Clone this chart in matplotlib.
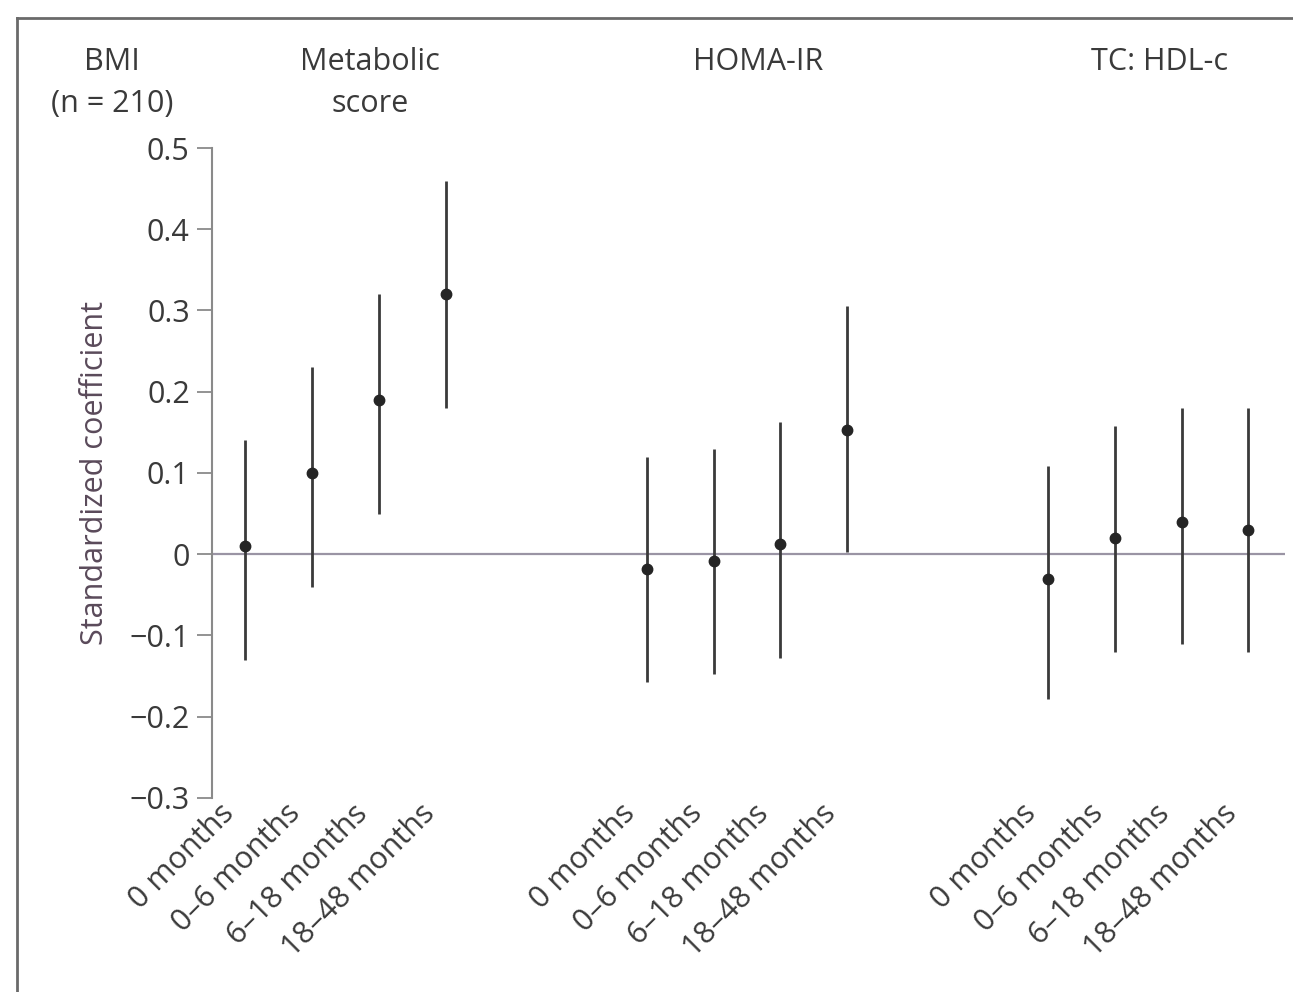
import matplotlib
matplotlib.use("Agg")
import matplotlib.pyplot as plt
import matplotlib.transforms as mtransforms
from matplotlib.lines import Line2D

plt.rcParams['font.family'] = ['Open Sans', 'DejaVu Sans']

group_names = [["Metabolic", "score"], ["HOMA-IR"], ["TC: HDL-c"]]
periods = ["0 months", "0\u20136 months", "6\u201318 months", "18\u201348 months"]

metabolic_est = [0.01, 0.10, 0.19, 0.32]
metabolic_lo = [-0.13, -0.04, 0.05, 0.18]
metabolic_hi = [0.14, 0.23, 0.32, 0.46]

homa_est = [-0.018, -0.008, 0.012, 0.153]
homa_lo = [-0.157, -0.147, -0.128, 0.003]
homa_hi = [0.12, 0.13, 0.163, 0.305]

tc_est = [-0.03, 0.02, 0.04, 0.03]
tc_lo = [-0.178, -0.12, -0.11, -0.12]
tc_hi = [0.108, 0.158, 0.18, 0.18]

yticks = [-0.3, -0.2, -0.1, 0, 0.1, 0.2, 0.3, 0.4, 0.5]
ytick_labels = ["\u22120.3", "\u22120.2", "\u22120.1", "0", "0.1", "0.2", "0.3", "0.4", "0.5"]

FS = 22
TXT = '#3a3a3a'

fig = plt.figure(figsize=(12.93, 9.92), dpi=100)
ax = fig.add_axes([0.164, 0.1956, 0.830, 0.6552])

series = [(metabolic_est, metabolic_lo, metabolic_hi),
          (homa_est, homa_lo, homa_hi),
          (tc_est, tc_lo, tc_hi)]
xpos_all = []
xlabels_all = []
for g, (est, lo, hi) in enumerate(series):
    xs = [g * 6 + i for i in range(len(est))]
    xpos_all += xs
    xlabels_all += periods
    for x, e, l, h in zip(xs, est, lo, hi):
        ax.plot([x, x], [l, h], color='#3a3a3a', lw=2.0, solid_capstyle='butt', zorder=3)
    ax.plot(xs, est, 'o', color='#252525', ms=7.5, zorder=4)

ax.axhline(0, color='#9a94a4', lw=1.6, zorder=2)

ax.set_xlim(-0.5, 15.55)
ax.set_ylim(-0.3, 0.5)
ax.set_yticks(yticks)
ax.set_yticklabels(ytick_labels, fontsize=FS, color=TXT)
ax.tick_params(axis='y', direction='out', length=11, width=1.3, color='#8a8a8a', pad=5)
ax.set_xticks(xpos_all)
ax.set_xticklabels(xlabels_all, rotation=45, ha='right', va='center',
                   rotation_mode='anchor', fontsize=FS, color=TXT)
ax.tick_params(axis='x', length=0, pad=8)
shift = mtransforms.ScaledTranslation(-16 / 100, 0, fig.dpi_scale_trans)
for lab in ax.get_xticklabels():
    lab.set_transform(lab.get_transform() + shift)
for s in ['top', 'right', 'bottom']:
    ax.spines[s].set_visible(False)
ax.spines['left'].set_color('#8a8a8a')
ax.spines['left'].set_linewidth(1.5)

ax.set_ylabel("Standardized coefficient", fontsize=FS, color='#5a4a5a', labelpad=14)

# group headers
fig.text(112 / 1293, 1 - 62 / 992, "BMI", ha='center', va='center', fontsize=FS, color=TXT)
fig.text(112 / 1293, 1 - 104 / 992, "(n = 210)", ha='center', va='center', fontsize=FS, color=TXT)
header_px = [370, 758, 1160]
for lines, px in zip(group_names, header_px):
    for k, line in enumerate(lines):
        fig.text(px / 1293, 1 - (62 + 42 * k) / 992, line, ha='center', va='center',
                 fontsize=FS, color=TXT)

# scan border
fig.add_artist(Line2D([17 / 1293, 17 / 1293], [0, 1 - 18 / 992], color='#6a6a6a', lw=2))
fig.add_artist(Line2D([17 / 1293, 1], [1 - 18 / 992, 1 - 18 / 992], color='#6a6a6a', lw=2))

fig.savefig("out.png", dpi=100)
